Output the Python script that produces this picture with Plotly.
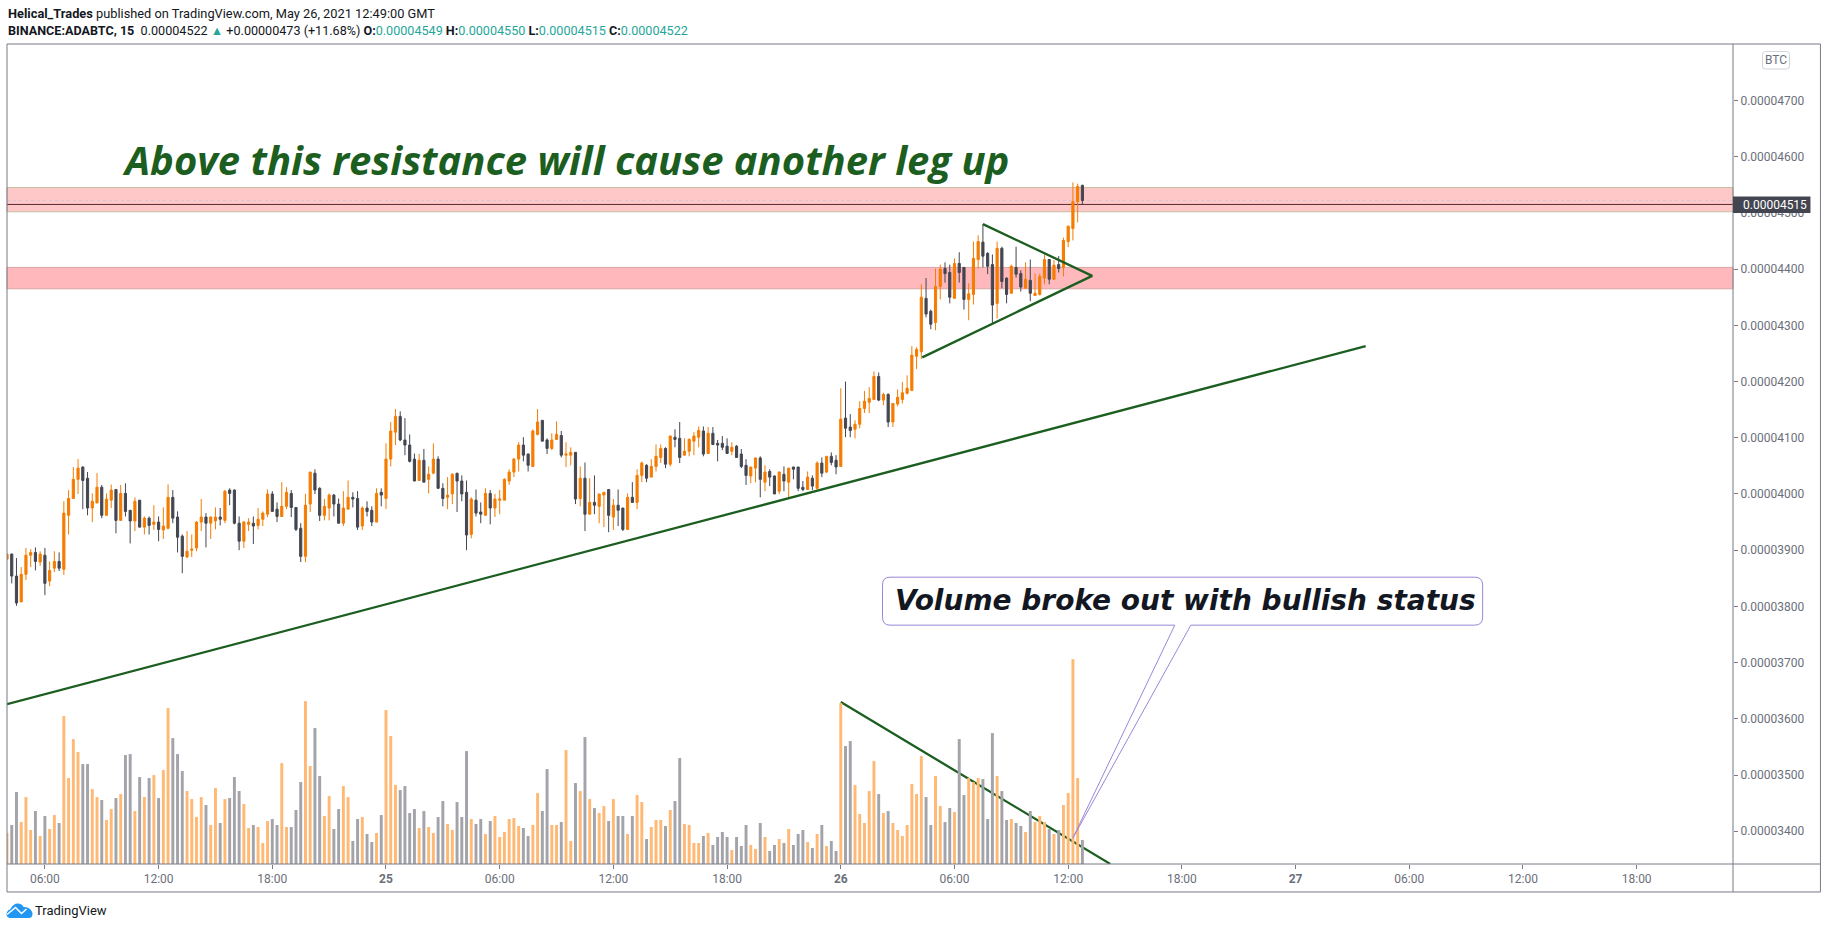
import pandas as pd
import plotly.graph_objects as go

# ADABTC 15m candles, prices in satoshi
opens = [3884,3893,3854,3808,3857,3891,3896,3879,3891,3845,
         3868,3880,3866,3962,3992,4026,4048,4028,3975,3984,
         4012,3962,3989,4008,3953,4001,3971,3952,3989,3941,
         3957,3946,3950,3936,3939,3994,3959,3925,3888,3900,
         3904,3950,3959,3948,3952,3959,3953,4007,4007,3948,
         3916,3946,3948,3944,3955,3964,4000,3973,3960,3978,
         4001,3976,3939,3889,3982,4037,4010,3962,3975,3998,
         3982,3948,3973,3994,3992,3943,3975,3971,3950,4003,
         3992,4062,4110,4138,4096,4087,4062,4024,4060,4026,
         4037,4062,4010,3994,4000,4037,4023,4003,3928,3989,
         3968,3962,4001,3975,3989,3989,4023,4039,4062,4087,
         4071,4049,4106,4131,4096,4081,4097,4104,4069,4069,
         4074,3992,4028,3964,3985,3978,3998,4008,3959,3980,
         3975,3937,3994,3985,4033,4051,4030,4049,4065,4081,
         4053,4101,4099,4069,4076,4094,4101,4112,4072,4108,
         4090,4090,4085,4076,4085,4071,4051,4032,4046,4064,
         4021,4040,4032,4005,4035,4021,4048,4048,4012,4008,
         4028,4010,4055,4039,4067,4060,4049,4135,4119,4115,
         4124,4152,4163,4168,4209,4167,4177,4128,4160,4168,
         4179,4184,4245,4253,4348,4325,4305,4369,4401,4394,
         4348,4410,4403,4346,4355,4417,4448,4428,4408,4339,
         4437,4384,4357,4403,4392,4366,4380,4353,4355,4384,
         4417,4382,4408,4403,4449,4472,4520,4549]
highs = [3893,3894,3886,3870,3904,3902,3905,3898,3904,3880,
         3898,3896,3987,4007,4048,4062,4049,4039,4001,4037,
         4016,4001,4017,4008,4016,4019,3971,3994,3989,3960,
         3960,3980,3960,3976,4017,4007,3969,3928,3934,3928,
         3952,3991,3966,3960,3976,3975,4007,4010,4008,3960,
         3952,3957,3960,3975,3969,4008,4005,3985,4021,4012,
         4007,3976,3948,4000,4039,4044,4012,3991,4001,4000,
         3992,4005,4024,4003,4005,3978,3987,3978,4010,4010,
         4090,4128,4151,4147,4135,4106,4072,4071,4080,4049,
         4090,4067,4019,4030,4037,4037,4033,4024,3994,4008,
         3985,4010,4007,4000,4007,4028,4044,4064,4092,4101,
         4072,4115,4151,4131,4099,4108,4129,4112,4092,4083,
         4074,4049,4056,4028,4033,4000,4003,4008,3991,4008,
         3975,4001,4021,4044,4058,4053,4062,4088,4088,4083,
         4104,4115,4128,4099,4099,4110,4120,4120,4119,4119,
         4096,4103,4099,4092,4087,4080,4062,4048,4065,4067,
         4051,4044,4033,4040,4049,4046,4048,4048,4023,4040,
         4033,4058,4065,4067,4074,4069,4188,4200,4142,4131,
         4165,4183,4190,4218,4216,4180,4179,4161,4186,4199,
         4211,4263,4261,4373,4384,4328,4401,4408,4412,4408,
         4419,4430,4403,4375,4449,4460,4480,4430,4426,4449,
         4440,4385,4408,4440,4398,4412,4417,4392,4392,4426,
         4417,4416,4423,4456,4478,4554,4552,4550]
lows = [3884,3841,3801,3808,3847,3870,3864,3872,3820,3836,
        3861,3863,3856,3928,3991,4000,3973,3962,3950,3984,
        3957,3962,3975,3930,3953,3960,3912,3934,3941,3928,
        3928,3936,3916,3920,3937,3948,3896,3859,3886,3888,
        3898,3934,3905,3920,3937,3944,3948,3980,3946,3900,
        3904,3934,3911,3937,3943,3959,3968,3950,3959,3973,
        3959,3934,3879,3879,3968,4000,3952,3953,3953,3960,
        3948,3943,3973,3976,3936,3936,3960,3943,3950,3978,
        3973,4049,4087,4094,4069,4056,4023,4024,4021,4001,
        4035,4010,3978,3973,3982,3968,3987,3900,3921,3960,
        3948,3962,3946,3959,3964,3989,4016,4030,4040,4058,
        4040,4049,4104,4094,4071,4078,4096,4065,4048,4051,
        3982,3978,3934,3964,3964,3948,3941,3932,3936,3943,
        3934,3937,3984,3973,4021,4021,4030,4040,4055,4046,
        4049,4083,4055,4069,4067,4069,4083,4067,4072,4088,
        4058,4078,4071,4069,4064,4046,4016,4019,4021,3994,
        4005,4014,4000,4000,4005,3991,4026,4005,4005,4007,
        4007,4008,4030,4037,4051,4035,4049,4101,4101,4099,
        4117,4144,4144,4167,4165,4158,4119,4119,4156,4161,
        4177,4184,4222,4240,4314,4293,4291,4346,4376,4339,
        4348,4376,4328,4309,4337,4401,4403,4391,4304,4312,
        4366,4339,4357,4385,4360,4366,4343,4353,4353,4373,
        4373,4382,4394,4387,4439,4451,4483,4515]
closes = [3893,3854,3806,3857,3891,3896,3880,3893,3841,3864,
          3880,3868,3966,3992,4026,4046,4024,3975,3987,4012,
          3962,3991,4007,3953,4001,3969,3952,3987,3941,3957,
          3944,3950,3937,3943,3994,3957,3923,3889,3898,3902,
          3950,3959,3948,3959,3959,3955,4005,4001,3948,3916,
          3950,3950,3943,3955,3966,4000,3969,3960,3978,4003,
          3976,3937,3889,3980,4039,4007,3962,3978,3998,3982,
          3948,3975,3994,3991,3941,3975,3969,3950,4001,3998,
          4062,4112,4138,4096,4087,4058,4023,4060,4021,4035,
          4062,4010,3992,3998,4035,4023,4000,3927,3991,3966,
          3964,4001,3975,3991,3991,4026,4039,4062,4087,4069,
          4051,4112,4128,4094,4081,4096,4106,4069,4071,4074,
          3991,4028,3964,3985,3980,4000,4003,3962,3980,3971,
          3937,3994,3985,4033,4055,4028,4049,4067,4081,4053,
          4103,4097,4065,4076,4097,4103,4113,4071,4108,4088,
          4087,4083,4072,4083,4065,4049,4033,4048,4064,4026,
          4039,4030,4000,4039,4023,4046,4044,4010,4008,4030,
          4014,4055,4037,4067,4056,4048,4133,4117,4113,4124,
          4152,4165,4170,4209,4167,4177,4128,4161,4172,4180,
          4188,4247,4257,4350,4320,4302,4369,4400,4392,4350,
          4410,4394,4346,4356,4419,4449,4423,4405,4336,4437,
          4378,4355,4405,4391,4368,4382,4357,4357,4387,4417,
          4382,4407,4401,4451,4476,4520,4547,4522]
# volume has no scale in the picture, arbitrary units
volumes = [31,39,72,42,67,34,53,28,48,35,
           49,41,148,86,125,112,100,100,75,67,
           64,44,55,66,70,109,110,53,87,67,
           86,89,66,94,156,126,110,93,73,65,
           47,67,59,39,76,41,65,66,87,73,
           60,36,39,37,21,43,45,39,101,37,
           37,54,82,163,98,136,88,48,68,35,
           55,78,67,23,45,47,30,22,31,49,
           154,128,79,74,78,51,55,36,53,37,
           31,47,63,40,34,62,47,113,45,40,
           45,30,43,48,27,32,45,46,38,36,
           28,39,71,53,95,39,39,42,114,23,
           81,73,127,65,56,51,58,43,65,48,
           48,30,48,69,62,25,37,44,44,38,
           54,63,106,40,39,21,21,28,31,19,
           27,32,27,14,27,18,39,19,15,41,
           27,13,19,25,21,35,19,30,34,22,
           16,30,39,18,23,13,161,118,123,79,
           50,41,73,103,70,51,53,41,34,28,
           39,80,70,108,67,39,88,58,42,56,
           52,125,69,86,82,86,85,45,131,88,
           73,44,45,41,38,32,53,42,48,42,
           35,30,34,59,71,205,86,24]

trend_t = ["2021-05-24 04:00", "2021-05-27 03:42"]
trend_p = [3626, 4263]
triangle_t = ["2021-05-26 04:18", "2021-05-26 13:16", "2021-05-26 07:30"]
triangle_p = [4243, 4388, 4480]
vol_trend_t = ["2021-05-26 00:00", "2021-05-26 14:13"]
vol_trend_p = [3630, 3342]
upper_zone = [4502, 4545]
lower_zone = [4365, 4403]
last_low = 4515
last_close = 4522
price_ticks = [3400,3500,3600,3700,3800,3900,4000,4100,4200,4300,4400,4500,4600,4700]
time_ticks = ["2021-05-24 06:00","2021-05-24 12:00","2021-05-24 18:00","2021-05-25 00:00",
              "2021-05-25 06:00","2021-05-25 12:00","2021-05-25 18:00","2021-05-26 00:00",
              "2021-05-26 06:00","2021-05-26 12:00","2021-05-26 18:00","2021-05-27 00:00",
              "2021-05-27 06:00","2021-05-27 12:00","2021-05-27 18:00"]
time_labels = ["06:00","12:00","18:00","<b>25</b>","06:00","12:00","18:00","<b>26</b>",
               "06:00","12:00","18:00","<b>27</b>","06:00","12:00","18:00"]

UP = "#f57c00"
DOWN = "#434651"
UP_VOL = "#ffb974"
DOWN_VOL = "#a3a3aa"
GREEN = "#1b5e20"
FRAME = "#787b86"
PURPLE = "#9b86d8"
TEAL = "#26a69a"
SCALE = 1e-8

W, H = 1828, 929
LEFT, RIGHT, TOP, BOTTOM = 6.5, 1733.5, 43.5, 864.0


def sat(values):
    return [v * SCALE for v in values]


# pixel position on the page -> paper fraction, for the TradingView furniture
def px_x(x):
    return (x - LEFT) / (RIGHT - LEFT)


def px_y(y):
    return (BOTTOM - y) / (BOTTOM - TOP)


def rounded_box(x0, y0, x1, y1, r):
    return (f"M {px_x(x0 + r)} {px_y(y0)} L {px_x(x1 - r)} {px_y(y0)} "
            f"Q {px_x(x1)} {px_y(y0)} {px_x(x1)} {px_y(y0 + r)} L {px_x(x1)} {px_y(y1 - r)} "
            f"Q {px_x(x1)} {px_y(y1)} {px_x(x1 - r)} {px_y(y1)} L {px_x(x0 + r)} {px_y(y1)} "
            f"Q {px_x(x0)} {px_y(y1)} {px_x(x0)} {px_y(y1 - r)} L {px_x(x0)} {px_y(y0 + r)} "
            f"Q {px_x(x0)} {px_y(y0)} {px_x(x0 + r)} {px_y(y0)} Z")


def frame_line(x0, y0, x1, y1):
    return dict(type="line", xref="paper", yref="paper", x0=px_x(x0), x1=px_x(x1),
                y0=px_y(y0), y1=px_y(y1), line=dict(color=FRAME, width=1), layer="above")


times = pd.date_range("2021-05-24 04:00", periods=len(opens), freq="15min")
vol_colors = [UP_VOL if c >= o else DOWN_VOL for o, c in zip(opens, closes)]

fig = go.Figure()
fig.add_trace(go.Bar(x=times, y=volumes, yaxis="y2", marker=dict(color=vol_colors, line_width=0),
                     hoverinfo="skip", showlegend=False))
fig.add_trace(go.Candlestick(
    x=times, open=sat(opens), high=sat(highs), low=sat(lows), close=sat(closes),
    increasing=dict(line=dict(color=UP, width=1), fillcolor=UP),
    decreasing=dict(line=dict(color=DOWN, width=1), fillcolor=DOWN),
    whiskerwidth=0, showlegend=False))
for t, p in [(trend_t, trend_p), (triangle_t, triangle_p), (vol_trend_t, vol_trend_p)]:
    fig.add_trace(go.Scatter(x=t, y=sat(p), mode="lines", line=dict(color=GREEN, width=2.3),
                             hoverinfo="skip", showlegend=False))

shapes = [
    dict(type="rect", xref="paper", yref="y", x0=0, x1=1, y0=upper_zone[0] * SCALE, y1=upper_zone[1] * SCALE,
         fillcolor="#ffc8c8", line=dict(color="#c8bca2", width=1), layer="below"),
    dict(type="rect", xref="paper", yref="y", x0=0, x1=1, y0=lower_zone[0] * SCALE, y1=lower_zone[1] * SCALE,
         fillcolor="#ffb8bb", line=dict(color="#d9a5a5", width=1), layer="below"),
    dict(type="line", xref="paper", yref="y", x0=0, x1=1, y0=last_close * SCALE, y1=last_close * SCALE,
         line=dict(color="#d8c4cc", width=1, dash="dot"), layer="below"),
    dict(type="line", xref="paper", yref="y", x0=0, x1=1, y0=last_low * SCALE, y1=last_low * SCALE,
         line=dict(color="#5a2630", width=1), layer="below"),
    frame_line(LEFT, TOP, 1821, TOP),
    frame_line(LEFT, TOP, LEFT, 892),
    frame_line(LEFT, 892, 1821, 892),
    frame_line(1821, TOP, 1821, 892),
    frame_line(RIGHT, TOP, RIGHT, 892),
    frame_line(LEFT, BOTTOM, 1821, BOTTOM),
    # callout box with its pointer
    dict(type="path", xref="paper", yref="paper", layer="above",
         path=(f"M {px_x(890)} {px_y(577)} L {px_x(1475)} {px_y(577)} "
               f"Q {px_x(1483)} {px_y(577)} {px_x(1483)} {px_y(585)} L {px_x(1483)} {px_y(617)} "
               f"Q {px_x(1483)} {px_y(625)} {px_x(1475)} {px_y(625)} L {px_x(1191)} {px_y(625)} "
               f"L {px_x(1073)} {px_y(838)} L {px_x(1175)} {px_y(625)} L {px_x(890)} {px_y(625)} "
               f"Q {px_x(882.5)} {px_y(625)} {px_x(882.5)} {px_y(617)} L {px_x(882.5)} {px_y(585)} "
               f"Q {px_x(882.5)} {px_y(577)} {px_x(890)} {px_y(577)} Z"),
         fillcolor="white", line=dict(color=PURPLE, width=1)),
    # last price tag
    dict(type="rect", xref="paper", yref="paper", x0=px_x(RIGHT), x1=px_x(1811), y0=px_y(196), y1=px_y(212.7),
         fillcolor=DOWN, line_width=0, layer="above"),
    # BTC pill
    dict(type="path", xref="paper", yref="paper", path=rounded_box(1763, 51, 1790, 68.5, 3),
         fillcolor="white", line=dict(color="#d1d4dc", width=1), layer="above"),
    # TradingView cloud
    dict(type="path", xref="paper", yref="paper", layer="above", fillcolor="#2196f3", line_width=0,
         path=(f"M {px_x(9)} {px_y(918)} Q {px_x(5.5)} {px_y(917)} {px_x(6)} {px_y(913)} "
               f"Q {px_x(7)} {px_y(910)} {px_x(10)} {px_y(909)} Q {px_x(13)} {px_y(903)} {px_x(18)} {px_y(903.5)} "
               f"Q {px_x(22)} {px_y(904)} {px_x(23)} {px_y(907)} Q {px_x(30)} {px_y(907)} {px_x(32)} {px_y(913)} "
               f"Q {px_x(32.5)} {px_y(918)} {px_x(28)} {px_y(918)} Z")),
    dict(type="path", xref="paper", yref="paper", layer="above",
         path=(f"M {px_x(6.5)} {px_y(914.5)} L {px_x(15)} {px_y(907.5)} L {px_x(21)} {px_y(913.5)} "
               f"L {px_x(26)} {px_y(909)}"),
         line=dict(color="white", width=1.5)),
]

header_1 = ("<b>Helical_Trades</b> published on TradingView.com, May 26, 2021 12:49:00 GMT")
val = f'<span style="color:{TEAL}">%s</span>'
header_2 = ("<b>BINANCE:ADABTC, 15</b>  0.00004522 " + val % "▲" + " +0.00000473 (+11.68%) "
            + "<b>O:</b>" + val % "0.00004549" + " <b>H:</b>" + val % "0.00004550"
            + " <b>L:</b>" + val % "0.00004515" + " <b>C:</b>" + val % "0.00004522")


def label(text, x, y, size, color, anchor="left", **font):
    return dict(text=text, xref="paper", yref="paper", x=px_x(x), y=px_y(y), showarrow=False,
                xanchor=anchor, yanchor="middle", borderpad=0,
                font=dict(size=size, color=color, **font))


annotations = [
    label(header_1, 6, 12.7, 12.8, "#131722", family="Roboto"),
    label(header_2, 6, 30, 12.6, "#131722", family="Roboto"),
    label("Above this resistance will cause another leg up", 121, 159, 40, GREEN,
          family="Open Sans", weight="bold", style="italic"),
    label("Volume broke out with bullish status", 894, 600, 28, "#131722",
          family="DejaVu Sans", weight="bold", style="italic"),
    label("0.00004515", 1743, 204.5, 12, "white", family="Roboto"),
    label("BTC", 1776.5, 60, 12, "#6b6f7a", anchor="center", family="Roboto"),
    label("TradingView", 34, 911, 13, "#131722", family="Roboto"),
]

fig.update_layout(
    width=W, height=H,
    margin=dict(l=LEFT, r=W - RIGHT, t=TOP, b=H - BOTTOM, pad=0, autoexpand=False),
    paper_bgcolor="white", plot_bgcolor="white",
    bargap=0.38, boxgap=0.35, dragmode=False,
    xaxis=dict(type="date", range=["2021-05-24 04:00", "2021-05-27 23:05"], rangeslider_visible=False,
               tickmode="array", tickvals=time_ticks, ticktext=time_labels, showgrid=False, zeroline=False,
               ticks="outside", ticklen=4, tickcolor=FRAME, showline=False,
               tickfont=dict(family="Roboto", size=12, color="#6b6f7a")),
    yaxis=dict(range=[3341.8 * SCALE, 4800.4 * SCALE], side="right", tickmode="array", tickvals=sat(price_ticks),
               tickformat=".8f", showgrid=False, zeroline=False, ticks="outside", ticklen=4, tickcolor=FRAME,
               showline=False, tickfont=dict(family="Roboto", size=12, color="#6b6f7a")),
    yaxis2=dict(range=[0, BOTTOM - TOP], overlaying="y", visible=False, fixedrange=True),
    shapes=shapes, annotations=annotations, showlegend=False,
)

fig.write_html("out.html", config=dict(displayModeBar=False),
               post_script="document.body.style.margin='0';document.body.style.overflow='hidden';")
